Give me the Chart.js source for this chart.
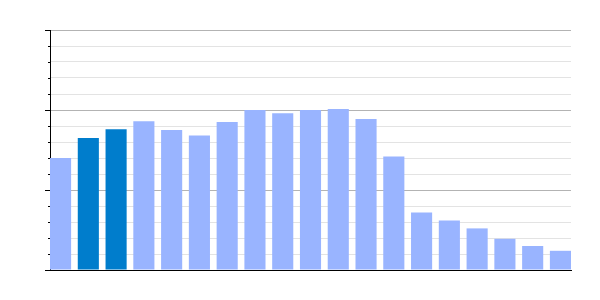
<!DOCTYPE html>
<html>
<head>
<meta charset="utf-8">
<script src="https://cdn.jsdelivr.net/npm/chart.js@4/dist/chart.umd.min.js"></script>
<style>
  html, body { margin: 0; padding: 0; background: #fff; }
  #wrap { width: 600px; height: 300px; }
</style>
</head>
<body>
<div id="wrap"><canvas id="myChart" width="600" height="300"></canvas></div>
<script>
// categories (no labels are shown in the picture)
const categories = ['1', '2', '3', '4', '5', '6', '7', '8', '9', '10',
    '11', '12', '13', '14', '15', '16', '17', '18', '19'];
const values = [70, 82.5, 88, 93, 87.5, 84, 92.5, 100, 98, 100,
    100.6, 94.4, 71, 36, 31, 26, 19.5, 15, 12];
const yTicks = [0, 50, 100, 150];

const highlight = [1, 2];
const lightBlue = 'rgb(153, 180, 255)';
const darkBlue = 'rgb(0, 125, 204)';

// short minor ticks, longer major ticks on the y axis
const tickMarks = {
    id: 'tickMarks',
    afterDraw(chart) {
        const y = chart.scales.y;
        const ctx = chart.ctx;
        const left = chart.chartArea.left;
        ctx.save();
        ctx.strokeStyle = '#000';
        ctx.lineWidth = 1;
        y.ticks.forEach(t => {
            const py = Math.round(y.getPixelForValue(t.value)) + 0.5;
            const len = yTicks.includes(t.value) ? 5 : 2;
            ctx.beginPath();
            ctx.moveTo(left - len, py);
            ctx.lineTo(left, py);
            ctx.stroke();
        });
        ctx.restore();
    }
};

const ctx = document.getElementById('myChart').getContext('2d');

new Chart(ctx, {
    type: 'bar',
    data: {
        labels: categories,
        datasets: [{
            data: values.map((v, i) => ({ x: i, y: v })),
            backgroundColor: values.map((v, i) => highlight.includes(i) ? darkBlue : lightBlue),
            borderWidth: 0,
            categoryPercentage: 1,
            barPercentage: 0.76
        }]
    },
    options: {
        responsive: false,
        animation: false,
        layout: { padding: { left: 50, right: 29, top: 30, bottom: 30 } },
        plugins: { legend: { display: false }, tooltip: { enabled: false } },
        scales: {
            x: {
                type: 'linear',
                offset: false,
                min: -0.38,
                max: 18.38,
                ticks: { display: false },
                grid: { display: false, drawTicks: false, tickLength: 0 },
                border: { display: true, color: '#000', width: 1 }
            },
            y: {
                min: 0,
                max: 150,
                ticks: { display: false, stepSize: 10 },
                grid: {
                    drawTicks: false,
                    color: c => yTicks.includes(c.tick.value) ? '#b3b3b3' : '#e3e3e3'
                },
                border: { display: true, color: '#000', width: 1 }
            }
        }
    },
    plugins: [tickMarks]
});
</script>
</body>
</html>
